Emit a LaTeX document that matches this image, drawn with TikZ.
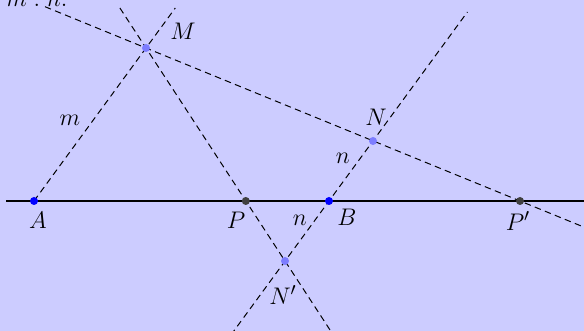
\documentclass[tikz,border=0pt]{standalone}
\begin{document}
\definecolor{bgcol}{RGB}{204,204,255}
\definecolor{ptblue}{RGB}{0,0,255}
\definecolor{ptgray}{RGB}{64,64,64}
\definecolor{ptlight}{RGB}{125,125,255}
\begin{tikzpicture}[x=0.5pt,y=-0.5pt,
  font=\fontsize{13}{15}\selectfont,
  dline/.style={black, line width=0.5pt, dash pattern=on 3.2pt off 2.2pt},
  sline/.style={black, line width=0.6pt},
  dot/.style={circle, inner sep=0pt, minimum size=4pt},
  lbl/.style={inner sep=0pt}]
\fill[bgcol] (0,0) rectangle (584,331);
\useasboundingbox (0,0) rectangle (584,331);
\clip (0,0) rectangle (584,331);
% points
\coordinate (A) at (34,201);
\coordinate (B) at (329,201);
\coordinate (M) at (146,48);
\coordinate (N) at (373,141);
\coordinate (Nq) at (285,261);
\coordinate (P) at (245.8,201);
\coordinate (Pq) at (520,201);
% line ends
\coordinate (h1) at (6,201);
\coordinate (h2) at (590,201);
\coordinate (am) at (175.3,8);
\coordinate (mp1) at (119.9,8);
\coordinate (mp2) at (333.3,335);
\coordinate (bn1) at (467.4,12);
\coordinate (bn2) at (230.9,335);
\coordinate (mn1) at (45,6.7);
\coordinate (mn2) at (590,229.6);
% lines
\draw[sline] (h1) -- (h2);
\draw[dline] (A) -- (am);
\draw[dline] (mp1) -- (mp2);
\draw[dline] (bn2) -- (bn1);
\draw[dline] (mn1) -- (mn2);
% dots
\node[dot, fill=ptblue] (dA) at (A) {};
\node[dot, fill=ptblue] (dB) at (B) {};
\node[dot, fill=ptgray] (dP) at (P) {};
\node[dot, fill=ptgray] (dPq) at (Pq) {};
\node[dot, fill=ptlight] (dM) at (M) {};
\node[dot, fill=ptlight] (dN) at (N) {};
\node[dot, fill=ptlight] (dNq) at (Nq) {};
% labels
\node[lbl, anchor=base west] (title) at (6,6.5) {$m:n.$};
\node[lbl] (lM) at (183,31) {$M$};
\node[lbl] (lN) at (376,117) {$N$};
\node[lbl] (lm) at (70,120) {$m$};
\node[lbl] (ln1) at (343,158) {$n$};
\node[lbl] (ln2) at (300,220) {$n$};
\node[lbl] (lA) at (38,220) {$A$};
\node[lbl] (lP) at (236,220) {$P$};
\node[lbl] (lB) at (347,217) {$B$};
\node[lbl] (lPq) at (518,221) {$P'$};
\node[lbl] (lNq) at (283,295) {$N'$};
\end{tikzpicture}
\end{document}
